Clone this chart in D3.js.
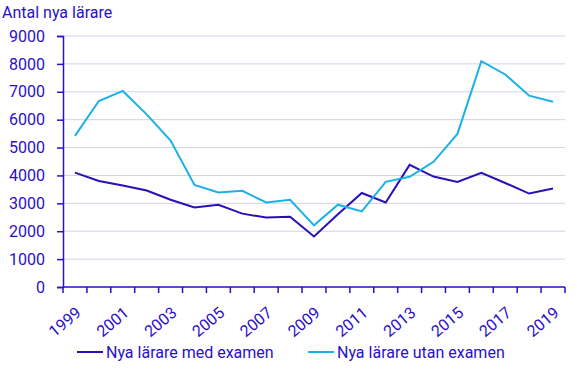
<!DOCTYPE html>
<html>
<head>
<meta charset="utf-8">
<script src="https://cdn.jsdelivr.net/npm/d3@7"></script>
<style>
  body{margin:0;background:#fff;}
  text{font-family:Roboto,"Liberation Sans",sans-serif;}
</style>
</head>
<body>
<svg id="drawing_region"></svg>
<script>
const years = d3.range(1999,2020).map(String);
const medExamen = [4100,3800,3640,3460,3130,2850,2950,2630,2490,2520,1810,2610,3370,3030,4380,3960,3770,4090,3730,3350,3530];
const utanExamen = [5420,6670,7030,6190,5250,3660,3390,3450,3030,3130,2210,2950,2710,3770,3950,4490,5490,8100,7620,6860,6640];
const yTicks = [0,1000,2000,3000,4000,5000,6000,7000,8000,9000];
const seriesNames = ["Nya lärare med examen","Nya lärare utan examen"];
const colors = ["#2a0fb8","#1ab1e8"];
const textColor = "#2a10c8";

const width = 577, height = 375;
const margin = {top:36,left:63,right:12,bottom:88};
const inner_width = width-margin.left-margin.right;
const inner_height = height-margin.top-margin.bottom;

const svg = d3.select("#drawing_region")
    .attr("width",width)
    .attr("height",height);

svg.append("text")
    .attr("x",2)
    .attr("y",18)
    .attr("fill",textColor)
    .attr("font-size","16px")
    .text("Antal nya lärare");

const chart = svg.append("g")
    .attr("transform",`translate(${margin.left},${margin.top})`);

const xscale = d3.scaleBand().domain(years).range([0,inner_width]);
const yscale = d3.scaleLinear().domain([0,9000]).range([inner_height,0]);

// gridlines
chart.selectAll("line.grid")
    .data(yTicks.filter(d=>d>0))
    .enter()
    .append("line")
    .attr("class","grid")
    .attr("x1",0)
    .attr("x2",inner_width)
    .attr("y1",d=>yscale(d))
    .attr("y2",d=>yscale(d))
    .attr("stroke","#d2d2ea")
    .attr("stroke-width",1);

// y axis
const yaxis_group = chart.append("g")
    .call(d3.axisLeft(yscale).tickValues(yTicks).tickFormat(d3.format("d")).tickSize(6).tickPadding(12));
yaxis_group.select(".domain").attr("stroke",textColor).attr("stroke-width",1.5);
yaxis_group.selectAll(".tick line").attr("stroke",textColor).attr("stroke-width",1.5);
yaxis_group.selectAll(".tick text")
    .attr("fill",textColor)
    .attr("font-size","16px")
    .attr("font-family","Roboto,sans-serif");

// x axis: ticks at band edges
const xaxis_group = chart.append("g")
    .attr("transform",`translate(0,${inner_height})`);
xaxis_group.append("line")
    .attr("x1",0).attr("x2",inner_width)
    .attr("stroke",textColor).attr("stroke-width",1.5);
const edges = years.map(d=>xscale(d)).concat([inner_width]);
xaxis_group.selectAll("line.tk")
    .data(edges)
    .enter()
    .append("line")
    .attr("class","tk")
    .attr("x1",d=>d).attr("x2",d=>d)
    .attr("y1",0).attr("y2",6)
    .attr("stroke",textColor).attr("stroke-width",1.5);
xaxis_group.selectAll("text")
    .data(years.filter((d,i)=>i%2==0))
    .enter()
    .append("text")
    .attr("transform",d=>`translate(${xscale(d)+xscale.bandwidth()/2},${19}) rotate(-40)`)
    .attr("text-anchor","end")
    .attr("dy","0.7em")
    .attr("fill",textColor)
    .attr("font-size","16px")
    .text(d=>d);

// lines
const line = d3.line()
    .x((d,i)=>xscale(years[i])+xscale.bandwidth()/2)
    .y(d=>yscale(d));
[medExamen,utanExamen].forEach((s,k)=>{
    chart.append("path")
        .datum(s)
        .attr("fill","none")
        .attr("stroke",colors[k])
        .attr("stroke-width",2)
        .attr("stroke-linejoin","miter")
        .attr("d",line);
});

// legend
const legendX = [77,308];
const legend = svg.selectAll("g.legend")
    .data(seriesNames)
    .enter()
    .append("g")
    .attr("class","legend")
    .attr("transform",(d,i)=>`translate(${legendX[i]},352)`);
legend.append("line")
    .attr("x1",0).attr("x2",26)
    .attr("stroke",(d,i)=>colors[i])
    .attr("stroke-width",2);
legend.append("text")
    .attr("x",29)
    .attr("dy","0.35em")
    .attr("fill",textColor)
    .attr("font-size","16px")
    .text(d=>d);
</script>
</body>
</html>
